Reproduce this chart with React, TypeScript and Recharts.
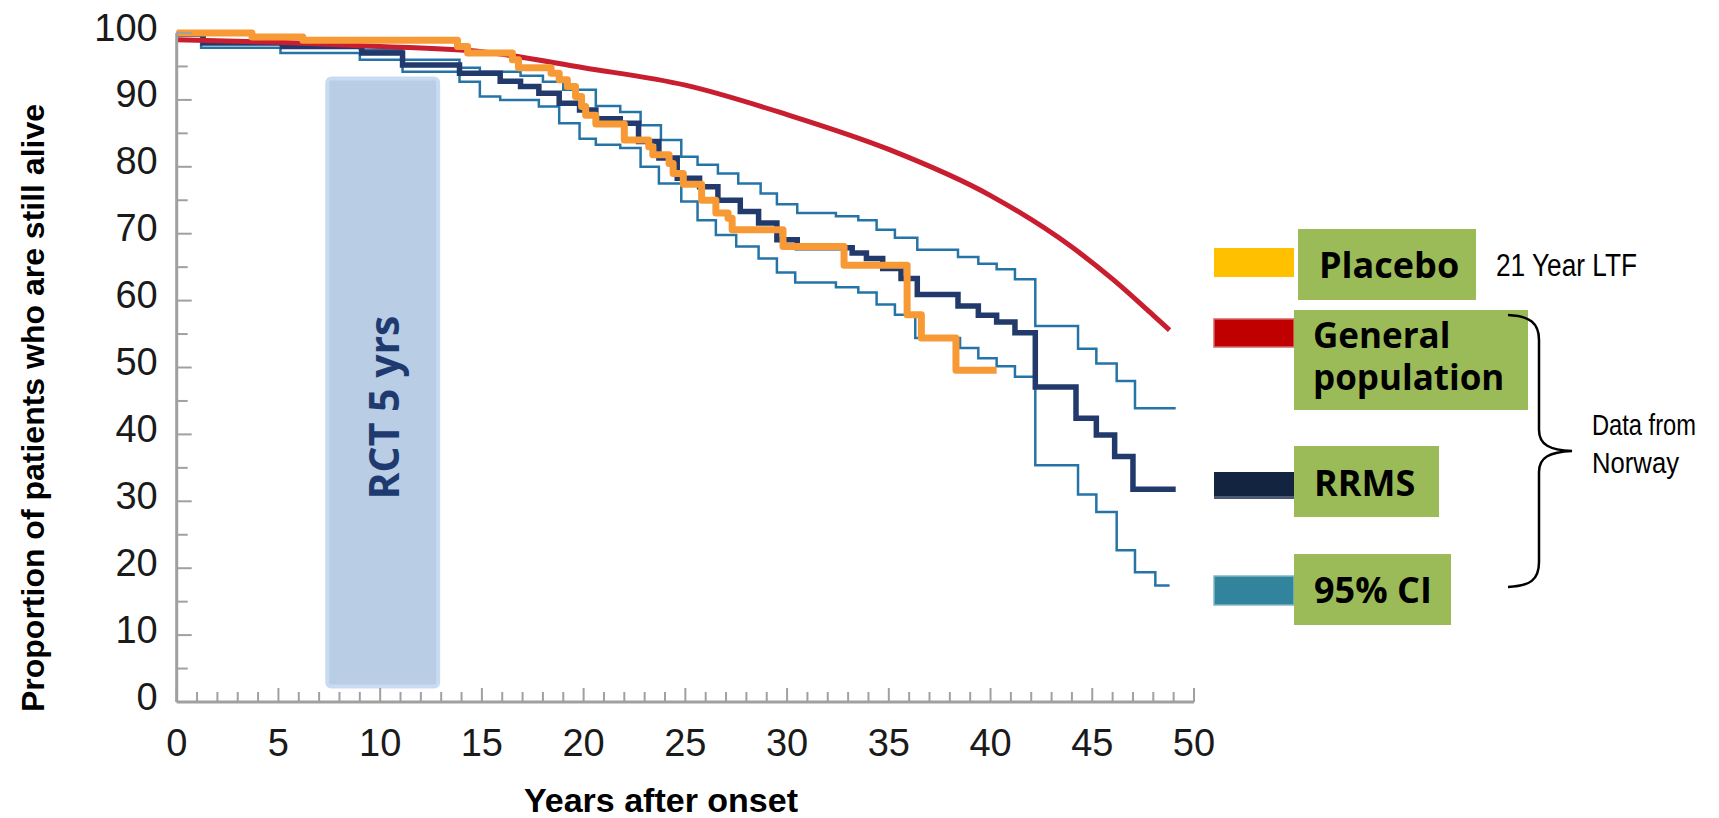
import { LineChart, Line, XAxis, YAxis, ReferenceArea } from 'recharts';

// Years after onset / percent still alive
const placeboYears = [0, 3.7, 6.2, 13.8, 14.3, 16.5, 16.8, 18.4, 18.8, 19.2, 19.6, 19.9, 20.1, 20.6, 22.0, 23.2, 23.4, 24.2, 24.4, 24.9, 25.8, 26.5, 27.1, 27.3, 29.8, 32.8, 35.9, 36.6, 38.3, 40.3];
const placeboAlive = [100, 99.4, 98.9, 98.0, 97.0, 96.0, 94.8, 94.0, 93.0, 92.0, 90.5, 89.0, 87.7, 86.4, 84.0, 83.0, 81.8, 80.5, 79.0, 77.4, 75.0, 73.1, 72.3, 70.6, 68.1, 65.3, 57.9, 54.4, 49.6, 49.6];

const generalYears = [0, 5, 10, 15, 20, 25, 30, 35, 40, 44, 46, 48, 48.8];
const generalAlive = [99.0, 98.6, 98.0, 97.2, 94.8, 92.2, 87.8, 82.6, 75.7, 68.0, 63.2, 57.8, 55.6];

const rrmsYears = [0, 1.3, 5.2, 9.1, 11.1, 13.9, 15.9, 16.9, 17.8, 18.8, 19.8, 20.6, 21.8, 22.7, 23.7, 24.6, 25.7, 26.6, 27.7, 28.6, 29.5, 30.5, 33.2, 33.9, 34.7, 35.6, 36.4, 38.4, 39.4, 40.3, 41.2, 42.2, 44.2, 45.2, 46.1, 47.0, 49.1];
const rrmsAlive = [99.9, 98.5, 98.0, 97.0, 95.2, 94.0, 92.8, 92.0, 91.0, 89.5, 88.5, 87.2, 86.5, 83.8, 81.3, 78.3, 77.0, 75.0, 73.3, 71.6, 69.1, 67.9, 67.1, 66.3, 64.8, 63.3, 60.9, 59.2, 57.8, 56.8, 55.2, 47.1, 42.4, 39.9, 36.7, 31.8, 31.8];

const ciUpperYears = [0, 1.3, 5.1, 9.0, 11.1, 13.9, 14.9, 16.9, 18.0, 19.0, 20.6, 21.8, 22.8, 23.8, 24.8, 25.6, 26.6, 27.6, 28.7, 29.5, 30.5, 32.4, 33.5, 34.4, 35.3, 36.4, 38.4, 39.4, 40.3, 41.2, 42.2, 44.3, 45.2, 46.2, 47.1, 49.1];
const ciUpperAlive = [100, 98.6, 98.2, 97.5, 96.0, 94.8, 94.2, 93.6, 92.7, 91.5, 89.1, 88.2, 86.2, 84.0, 81.5, 80.3, 79.0, 77.5, 76.0, 74.4, 73.1, 72.6, 72.0, 70.6, 69.4, 67.6, 66.5, 65.5, 64.7, 63.2, 56.2, 52.8, 50.6, 48.0, 43.9, 43.9];

const ciLowerYears = [0, 1.2, 5.1, 9.0, 11.1, 13.9, 14.9, 15.9, 17.8, 18.8, 19.8, 20.6, 21.8, 22.8, 23.7, 24.8, 25.6, 26.5, 27.5, 28.6, 29.5, 30.4, 32.4, 33.5, 34.4, 35.3, 36.3, 38.5, 39.4, 40.3, 41.2, 42.2, 44.3, 45.2, 46.2, 47.1, 48.1, 48.8];
const ciLowerAlive = [99.6, 97.8, 97.0, 96.0, 94.2, 92.7, 90.5, 90.0, 89.0, 86.5, 84.2, 83.3, 82.8, 80.0, 77.5, 74.8, 72.0, 69.8, 68.1, 66.3, 64.2, 62.7, 62.0, 61.2, 59.4, 57.9, 54.4, 52.9, 51.4, 50.2, 48.6, 35.4, 31.0, 28.4, 22.7, 19.4, 17.4, 17.4];

// RCT window shown as a shaded box
const rctYears = [7.4, 12.85];
const rctRange = [2.3, 93.2];

const xTicks = [0, 1, 2, 3, 4, 5, 6, 7, 8, 9, 10, 11, 12, 13, 14, 15, 16, 17, 18, 19, 20, 21, 22, 23, 24, 25, 26, 27, 28, 29, 30, 31, 32, 33, 34, 35, 36, 37, 38, 39, 40, 41, 42, 43, 44, 45, 46, 47, 48, 49, 50];
const yTicks = [0, 5, 10, 15, 20, 25, 30, 35, 40, 45, 50, 55, 60, 65, 70, 75, 80, 85, 90, 95, 100];

const zip = (ts: number[], vs: number[]) => ts.map((t, i) => ({ t, v: vs[i] }));

const placeboData = zip(placeboYears, placeboAlive);
const generalData = zip(generalYears, generalAlive);
const rrmsData = zip(rrmsYears, rrmsAlive);
const ciUpperData = zip(ciUpperYears, ciUpperAlive);
const ciLowerData = zip(ciLowerYears, ciLowerAlive);

const AXIS = '#a0a0a0';
const SANS = "'Liberation Sans', Arial, sans-serif";
const NARROW = "'Liberation Sans Narrow', 'Liberation Sans', Arial, sans-serif";
const CALIBRI = "'Open Sans', 'Noto Sans', sans-serif";
const CI_BLUE = '#2574a8';

const XTick = (props: any) => {
    const { x, y, payload } = props;
    const major = payload.value % 5 === 0;
    return (
        <g>
            <line x1={x} x2={x} y1={y} y2={y - (major ? 14 : 10)} stroke={AXIS} strokeWidth={2} />
            {major && (
                <text x={x} y={y + 54} textAnchor="middle" fontSize={38} fontFamily={SANS} fill="#1a1a1a">
                    {payload.value}
                </text>
            )}
        </g>
    );
};

const YTick = (props: any) => {
    const { x, y, payload } = props;
    const major = payload.value % 10 === 0;
    return (
        <g>
            <line x1={x} x2={x + (major ? 15 : 11)} y1={y} y2={y} stroke={AXIS} strokeWidth={2} />
            {major && (
                <text x={x - 19} y={y + 7.5} textAnchor="end" fontSize={38} fontFamily={SANS} fill="#1a1a1a">
                    {payload.value}
                </text>
            )}
        </g>
    );
};

const RctLabel = (props: any) => {
    const { x, y, width, height } = props.viewBox;
    const cx = x + width / 2;
    const cy = y + height / 2 + 25;
    return (
        <text
            x={cx}
            y={cy}
            transform={`rotate(-90 ${cx} ${cy})`}
            textAnchor="middle"
            dominantBaseline="central"
            fontSize={41}
            fontWeight={700}
            fontFamily={CALIBRI}
            fill="#1f3a6e"
        >
            RCT 5 yrs
        </text>
    );
};

const Annotations = () => (
    <svg
        width={1719}
        height={818}
        style={{ position: 'absolute', left: 0, top: 0, pointerEvents: 'none' }}
    >
        {/* axis titles */}
        <text
            x={33}
            y={408}
            transform="rotate(-90 33 408)"
            textAnchor="middle"
            dominantBaseline="central"
            fontSize={32}
            fontWeight={700}
            fontFamily={SANS}
            fill="#000"
        >
            Proportion of patients who are still alive
        </text>
        <text x={661} y={812} textAnchor="middle" fontSize={34} fontWeight={700} fontFamily={SANS} fill="#000">
            Years after onset
        </text>

        {/* legend */}
        <rect x={1214} y={248} width={80} height={29} fill="#ffc000" />
        <rect x={1298} y={229} width={178} height={71} fill="#9bbb59" />
        <text x={1319} y={278} fontSize={36} fontWeight={700} fontFamily={CALIBRI} fill="#000">Placebo</text>
        <text x={1496} y={276} fontSize={31} fontFamily={NARROW} textLength={141} lengthAdjust="spacingAndGlyphs" fill="#000">
            21 Year LTF
        </text>

        <rect x={1214} y={319} width={80} height={28} fill="#c00000" stroke="#d96666" strokeWidth={1.5} />
        <rect x={1294} y={310} width={234} height={100} fill="#9bbb59" />
        <text x={1313} y={348} fontSize={35} fontWeight={700} fontFamily={CALIBRI} fill="#000">General</text>
        <text x={1313} y={390} fontSize={35} fontWeight={700} fontFamily={CALIBRI} fill="#000">population</text>

        <rect x={1214} y={472} width={80} height={27} fill="#12243f" />
        <rect x={1214} y={496} width={80} height={3} fill="#4a5a75" />
        <rect x={1294} y={446} width={145} height={71} fill="#9bbb59" />
        <text x={1314} y={496} fontSize={36} fontWeight={700} fontFamily={CALIBRI} fill="#000">RRMS</text>

        <rect x={1214} y={576} width={80} height={29} fill="#31849b" stroke="#82b6c6" strokeWidth={1.5} />
        <rect x={1294} y={554} width={157} height={71} fill="#9bbb59" />
        <text x={1314} y={603} fontSize={36} fontWeight={700} fontFamily={CALIBRI} fill="#000">95% CI</text>

        {/* brace */}
        <path
            d="M 1508 315 C 1530 316 1539 323 1539 340 L 1539 430 C 1539 445 1550 450 1572 451 C 1550 452 1539 457 1539 472 L 1539 562 C 1539 580 1530 586 1508 587"
            fill="none"
            stroke="#000"
            strokeWidth={2.5}
        />
        <text x={1592} y={435} fontSize={29} fontFamily={NARROW} textLength={104} lengthAdjust="spacingAndGlyphs" fill="#000">
            Data from
        </text>
        <text x={1592} y={473} fontSize={29} fontFamily={NARROW} textLength={87} lengthAdjust="spacingAndGlyphs" fill="#000">
            Norway
        </text>
    </svg>
);

const App = () => {
    return (
        <div
            style={{
                position: 'absolute',
                left: 0,
                top: 0,
                width: 1719,
                height: 818,
                background: '#fff',
                overflow: 'hidden',
            }}
        >
            <LineChart
                width={1719}
                height={818}
                margin={{ top: 33, right: 525, bottom: 56, left: 116.7 }}
            >
                <XAxis
                    dataKey="t"
                    type="number"
                    domain={[0, 50]}
                    ticks={xTicks}
                    interval={0}
                    height={60}
                    tickSize={0}
                    tickMargin={0}
                    tickLine={false}
                    axisLine={{ stroke: AXIS, strokeWidth: 3 }}
                    tick={<XTick />}
                />
                <YAxis
                    type="number"
                    domain={[0, 100]}
                    ticks={yTicks}
                    interval={0}
                    width={60}
                    tickSize={0}
                    tickMargin={0}
                    tickLine={false}
                    axisLine={{ stroke: AXIS, strokeWidth: 3 }}
                    tick={<YTick />}
                />
                <ReferenceArea
                    x1={rctYears[0]}
                    x2={rctYears[1]}
                    y1={rctRange[0]}
                    y2={rctRange[1]}
                    fill="#b9cde5"
                    fillOpacity={1}
                    stroke="#c9dbf2"
                    strokeWidth={4}
                    radius={4}
                    label={RctLabel}
                />
                <Line
                    data={ciLowerData}
                    dataKey="v"
                    type="stepAfter"
                    stroke={CI_BLUE}
                    strokeWidth={2.5}
                    dot={false}
                    activeDot={false}
                    isAnimationActive={false}
                />
                <Line
                    data={ciUpperData}
                    dataKey="v"
                    type="stepAfter"
                    stroke={CI_BLUE}
                    strokeWidth={2.5}
                    dot={false}
                    activeDot={false}
                    isAnimationActive={false}
                />
                <Line
                    data={rrmsData}
                    dataKey="v"
                    type="stepAfter"
                    stroke="#213a6b"
                    strokeWidth={5.5}
                    dot={false}
                    activeDot={false}
                    isAnimationActive={false}
                />
                <Line
                    data={generalData}
                    dataKey="v"
                    type="monotone"
                    stroke="#c81e30"
                    strokeWidth={5}
                    dot={false}
                    activeDot={false}
                    isAnimationActive={false}
                />
                <Line
                    data={placeboData}
                    dataKey="v"
                    type="stepAfter"
                    stroke="#f79a36"
                    strokeWidth={7}
                    strokeLinejoin="round"
                    dot={false}
                    activeDot={false}
                    isAnimationActive={false}
                />
            </LineChart>
            <Annotations />
        </div>
    );
};

export default App;
